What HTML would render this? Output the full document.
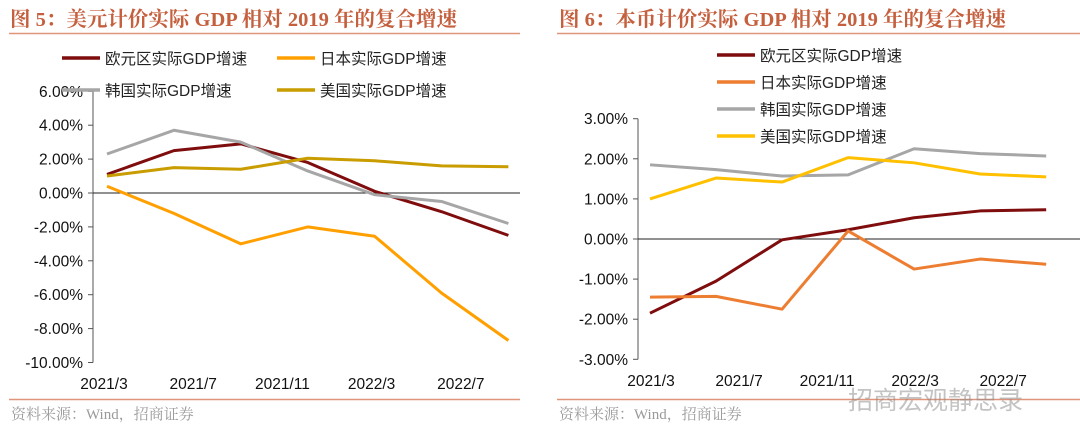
<!DOCTYPE html>
<html><head><meta charset="utf-8"><style>
body{margin:0;background:#fff;width:1080px;height:444px;overflow:hidden;font-family:"Liberation Sans","Noto Sans CJK SC",sans-serif}
svg{position:absolute;left:0;top:0}
</style></head><body>
<svg id="s" width="1080" height="444" xmlns="http://www.w3.org/2000/svg"></svg>
<script>
const categories=["2021/3","2021/6","2021/9","2021/12","2022/3","2022/6","2022/9"];
const xTickLabels=["2021/3","2021/7","2021/11","2022/3","2022/7"];
const xTickMonths=[0,4,8,12,16];
const catMonths=[0,3,6,9,12,15,18];
const c1Euro=[1.1,2.5,2.9,1.8,0.1,-1.1,-2.5];
const c1Japan=[0.4,-1.2,-3.0,-2.0,-2.55,-5.9,-8.7];
const c1Korea=[2.3,3.7,3.0,1.3,-0.1,-0.5,-1.8];
const c1US=[1.0,1.5,1.4,2.05,1.9,1.6,1.55];
const c1YTicks=[6,4,2,0,-2,-4,-6,-8,-10];
const c2Euro=[-1.85,-1.05,-0.02,0.23,0.53,0.70,0.73];
const c2Japan=[-1.45,-1.43,-1.75,0.2,-0.75,-0.5,-0.63];
const c2Korea=[1.85,1.73,1.57,1.6,2.25,2.13,2.07];
const c2US=[1.0,1.52,1.42,2.03,1.9,1.62,1.55];
const c2YTicks=[3,2,1,0,-1,-2,-3];
const seriesNames=["欧元区实际GDP增速","日本实际GDP增速","韩国实际GDP增速","美国实际GDP增速"];

const NS="http://www.w3.org/2000/svg",S=document.getElementById('s');
function mk(t,a,txt){const e=document.createElementNS(NS,t);for(const k in a)e.setAttribute(k,a[k]);if(txt!==undefined)e.textContent=txt;S.appendChild(e);return e;}

function chart(o){
  const xs=m=>o.x0+m*o.dx, ys=v=>o.yz-v*o.py;
  let e=mk('text',{x:o.tx,y:26,'font-family':'"Liberation Serif","Noto Serif CJK SC",serif','font-weight':'bold','font-size':20.5,fill:'#c5603f'},o.title);
  
  
  e=mk('line',{x1:o.l,x2:o.r,y1:33.5,y2:33.5,stroke:'#e0947a','stroke-width':1.5});
  
  
  e=mk('line',{x1:o.l,x2:o.r,y1:399.5,y2:399.5,stroke:'#e0947a','stroke-width':1.5});
  
  
  e=mk('text',{x:o.l+2,y:419,'font-family':'"Liberation Serif","Noto Serif CJK SC",serif','font-size':15,fill:'#9a9a9a'},'资料来源：Wind，招商证券');
  
  
  const top=ys(o.ticks[0]),bot=ys(o.ticks[o.ticks.length-1]);
  e=mk('line',{x1:o.ax,x2:o.ax,y1:top,y2:bot,stroke:'#555','stroke-width':1});
  
  
  o.ticks.forEach(t=>{
    const y=ys(t);
    mk('line',{x1:o.ax-5,x2:o.ax,y1:y,y2:y,stroke:'#555'});
    const lb=mk('text',{x:o.ax-10,y:y+5.5,'text-anchor':'end','font-size':15.5,fill:'#111'},t.toFixed(2)+'%');
    
    
  });
  e=mk('line',{x1:o.ax,x2:o.r,y1:ys(0),y2:ys(0),stroke:'#222','stroke-width':1});
  
  
  xTickLabels.forEach((t,i)=>{
    const lb=mk('text',{x:xs(xTickMonths[i])+o.lx,y:o.xly,'text-anchor':'middle','font-size':15.5,fill:'#111'},t);
    
    
  });
  o.series.forEach((s,i)=>{
    const p=mk('polyline',{points:s.d.map((v,j)=>xs(catMonths[j])+','+ys(v)).join(' '),fill:'none',stroke:s.c,'stroke-width':3,'stroke-linejoin':'round'});
    
    
    const [lx,ly]=o.leg[i];
    const ll=mk('line',{x1:lx,x2:lx+38,y1:ly,y2:ly,stroke:s.c,'stroke-width':3.5});
    
    
    const lt=mk('text',{x:lx+43,y:ly+6,'font-size':15.5,fill:'#222'},seriesNames[i]);
    
    
  });
}
chart({id:'chart5',title:'图 5：美元计价实际 GDP 相对 2019 年的复合增速',tx:10,l:9,r:520,ax:93,x0:107,dx:22.3,yz:193,py:16.95,ticks:c1YTicks,xly:389,lx:-3,
  leg:[[62,58],[277,58],[62,90],[277,90]],
  series:[{k:'euro',d:c1Euro,c:'#7f0d0d'},{k:'japan',d:c1Japan,c:'#ffa000'},{k:'korea',d:c1Korea,c:'#a6a6a6'},{k:'us',d:c1US,c:'#c99c00'}]});
chart({id:'chart6',title:'图 6：本币计价实际 GDP 相对 2019 年的复合增速',tx:559,l:557,r:1080,ax:638,x0:650,dx:22.01,yz:239,py:40.1,ticks:c2YTicks,xly:386,lx:1,
  leg:[[717,55],[717,82],[717,109],[717,136]],
  series:[{k:'euro',d:c2Euro,c:'#7f0d0d'},{k:'japan',d:c2Japan,c:'#ed7d31'},{k:'korea',d:c2Korea,c:'#a6a6a6'},{k:'us',d:c2US,c:'#ffc000'}]});
const wm=mk('text',{x:848,y:409,'font-size':25,fill:'#888','fill-opacity':0.5},'招商宏观静思录');


</script>
</body></html>
